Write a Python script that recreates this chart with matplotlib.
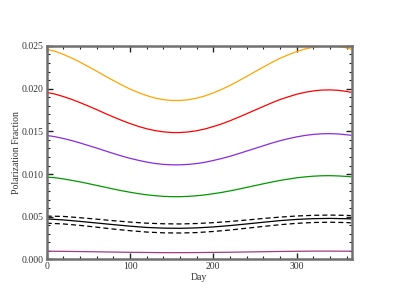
import matplotlib
matplotlib.use("Agg")
import matplotlib.pyplot as plt
from matplotlib.ticker import MultipleLocator, FormatStrFormatter

days10 = [0, 10, 20, 30, 40, 50, 60, 70, 80, 90, 100, 110, 120, 130, 140, 150, 160, 170, 180,
          190, 200, 210, 220, 230, 240, 250, 260, 270, 280, 290, 300, 310, 320, 330, 340, 350, 360, 365]
days20 = [0, 20, 40, 60, 80, 100, 120, 140, 160, 180, 200, 220, 240, 260, 280, 300, 320, 340, 360, 365]

orange = [0.02460, 0.02437, 0.02400, 0.02358, 0.02310, 0.02257, 0.02204, 0.02148, 0.02095, 0.02043,
          0.01995, 0.01954, 0.01918, 0.01890, 0.01871, 0.01861, 0.01861, 0.01870, 0.01888,
          0.01915, 0.01950, 0.01991, 0.02037, 0.02089, 0.02143, 0.02198, 0.02252, 0.02305,
          0.02355, 0.02396, 0.02434, 0.02464, 0.02485, 0.02497, 0.02500, 0.02493, 0.02477, 0.02462]
red = [0.01955, 0.01936, 0.01907, 0.01874, 0.01836, 0.01796, 0.01754, 0.01710, 0.01668, 0.01628,
       0.01591, 0.01558, 0.01530, 0.01509, 0.01494, 0.01486, 0.01486, 0.01493, 0.01507,
       0.01528, 0.01556, 0.01587, 0.01624, 0.01664, 0.01706, 0.01749, 0.01791, 0.01833,
       0.01872, 0.01904, 0.01934, 0.01957, 0.01973, 0.01983, 0.01985, 0.01980, 0.01967, 0.01957]
violet = [0.01452, 0.01437, 0.01416, 0.01392, 0.01364, 0.01334, 0.01304, 0.01272, 0.01241, 0.01211,
          0.01184, 0.01161, 0.01140, 0.01124, 0.01113, 0.01108, 0.01108, 0.01113, 0.01123,
          0.01138, 0.01159, 0.01182, 0.01208, 0.01238, 0.01269, 0.01300, 0.01331, 0.01362,
          0.01390, 0.01414, 0.01435, 0.01452, 0.01464, 0.01471, 0.01473, 0.01469, 0.01460, 0.01454]
green = [0.00964, 0.00957, 0.00943, 0.00926, 0.00908, 0.00888, 0.00867, 0.00846, 0.00825, 0.00805,
         0.00787, 0.00771, 0.00757, 0.00747, 0.00739, 0.00735, 0.00735, 0.00739, 0.00746,
         0.00756, 0.00770, 0.00785, 0.00803, 0.00823, 0.00844, 0.00865, 0.00886, 0.00906,
         0.00925, 0.00941, 0.00956, 0.00967, 0.00975, 0.00980, 0.00981, 0.00978, 0.00972, 0.00968]
black_mid = [0.00475, 0.00463, 0.00446, 0.00427, 0.00408, 0.00390, 0.00375, 0.00367, 0.00365, 0.00370,
             0.00381, 0.00397, 0.00416, 0.00436, 0.00455, 0.00469, 0.00478, 0.00481, 0.00477, 0.00475]
black_hi = [0.00508, 0.00504, 0.00489, 0.00472, 0.00454, 0.00438, 0.00425, 0.00418, 0.00416, 0.00421,
            0.00431, 0.00445, 0.00462, 0.00480, 0.00496, 0.00509, 0.00517, 0.00520, 0.00516, 0.00514]
black_lo = [0.00425, 0.00416, 0.00399, 0.00378, 0.00356, 0.00337, 0.00321, 0.00312, 0.00310, 0.00315,
            0.00328, 0.00345, 0.00366, 0.00387, 0.00407, 0.00423, 0.00433, 0.00436, 0.00432, 0.00429]
bottom = [0.00097, 0.00095, 0.00093, 0.00090, 0.00087, 0.00084, 0.00082, 0.00080, 0.00080, 0.00081,
          0.00083, 0.00085, 0.00088, 0.00091, 0.00094, 0.00096, 0.00098, 0.00098, 0.00097, 0.00097]

plt.rcParams['font.family'] = ['Liberation Serif', 'DejaVu Serif']

fig = plt.figure(figsize=(3.96, 3.06), dpi=100)
ax = fig.add_axes([0.118, 0.152, 0.770, 0.698])

lw = 0.9
ax.plot(days10, orange, color='#ffa500', lw=lw)
ax.plot(days10, red, color='#ff0000', lw=lw)
ax.plot(days10, violet, color='#8a2be2', lw=lw)
ax.plot(days10, green, color='#009900', lw=lw)
ax.plot(days20, black_mid, color='black', lw=lw)
ax.plot(days20, black_hi, color='black', lw=lw, dashes=(4, 2.5))
ax.plot(days20, black_lo, color='black', lw=lw, dashes=(4, 2.5))
ax.plot(days20, bottom, color='#a03c80', lw=lw)

ax.set_xlim(0, 366)
ax.set_ylim(0, 0.025)
ax.xaxis.set_major_locator(MultipleLocator(100))
ax.xaxis.set_minor_locator(MultipleLocator(20))
ax.yaxis.set_major_locator(MultipleLocator(0.005))
ax.yaxis.set_minor_locator(MultipleLocator(0.001))
ax.yaxis.set_major_formatter(FormatStrFormatter('%.3f'))

for s in ax.spines.values():
    s.set_color('#707070')
    s.set_linewidth(1.8)
ax.tick_params(which='both', direction='in', top=True, right=True,
               color='#222222', labelsize=7, labelcolor='#333333', pad=2)
ax.tick_params(which='major', length=4.5, width=1.0)
ax.tick_params(which='minor', length=2.5, width=0.8)

ax.set_xlabel('Day', fontsize=7, color='#333333', labelpad=1)
ax.set_ylabel('Polarization Fraction', fontsize=7, color='#333333', labelpad=1)

fig.savefig('out.png', dpi=100)
